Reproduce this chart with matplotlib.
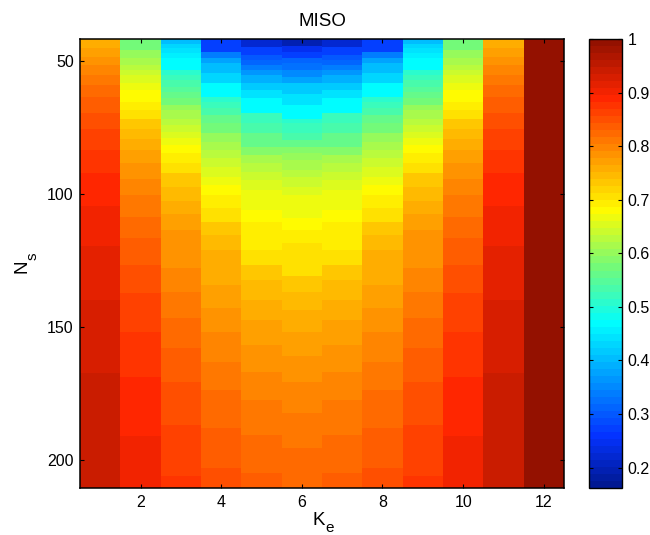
import matplotlib

matplotlib.use("Agg")
import matplotlib.pyplot as plt  # noqa: E402
import numpy as np  # noqa: E402
from matplotlib.cm import ScalarMappable  # noqa: E402
from matplotlib.colors import LinearSegmentedColormap, Normalize  # noqa: E402

# each column is a stack of bands: band edges in N_s and the value inside each band
NS_TOP = 41.7
NS_BOTTOM = 210.5

col1_edges = [NS_TOP, 45.2, 48.4, 51.5, 55.3, 59.0, 63.4, 69.4, 75.6, 83.5, 92.2, 104.5, 119.5,
              139.8, 167.4, NS_BOTTOM]
col1_vals = [.755, .768, .781, .795, .808, .821, .834, .848, .861, .874, .887, .900, .914, .927, .940]

col2_edges = [NS_TOP, 45.9, 49.0, 51.5, 53.4, 55.3, 58.4, 60.7, 65.3, 68.4, 71.6, 75.6, 79.3, 83.5,
              88.5, 94.4, 100.4, 108.5, 116.7, 126.7, 137.3, 151.7, 168.7, 191.0, NS_BOTTOM]
col2_vals = [.570, .596, .609, .623, .636, .649, .662, .676, .689, .702, .728, .742, .755, .768,
             .781, .795, .808, .821, .834, .848, .861, .874, .887, .900]

col3_edges = [NS_TOP, 43.4, 45.2, 47.1, 49.0, 53.4, 55.3, 57.1, 59.6, 61.5, 64.0, 66.5, 68.4, 71.6,
              74.1, 76.6, 79.1, 81.6, 84.7, 88.5, 92.2, 97.2, 102.5, 107.5, 113.5, 127.9, 136.7,
              146.7, 158.0, 170.5, 186.8, 206.0, NS_BOTTOM]
col3_vals = [.402, .424, .437, .451, .464, .504, .517, .530, .543, .557, .570, .596, .609, .623,
             .636, .649, .662, .676, .689, .702, .728, .742, .755, .768, .781, .795, .808, .821,
             .834, .848, .861, .874]

col4_edges = [NS_TOP, 46.5, 49.0, 50.9, 54.6, 58.4, 63.4, 65.3, 67.8, 70.3, 73.4, 77.2, 80.3, 83.5,
              86.6, 89.7, 93.5, 96.6, 100.4, 105.4, 110.4, 115.4, 121.0, 134.2, 143.0, 151.7, 163.0,
              173.7, 188.0, 203.0, NS_BOTTOM]
col4_vals = [.269, .336, .375, .402, .424, .464, .504, .517, .530, .557, .570, .596, .609, .623,
             .636, .649, .662, .676, .689, .702, .728, .742, .755, .768, .781, .795, .808, .821,
             .834, .848]

col5_edges = [NS_TOP, 44.6, 47.7, 49.6, 51.5, 53.4, 55.3, 58.4, 60.9, 64.0, 69.7, 73.4, 77.2, 82.2,
              85.3, 88.5, 91.6, 94.7, 98.5, 106.0, 110.4, 121.0, 126.7, 132.3, 139.8, 147.4, 156.8,
              166.8, 177.4, 190.6, 205.0, NS_BOTTOM]
col5_vals = [.217, .269, .296, .309, .336, .362, .389, .411, .437, .464, .517, .530, .557, .583,
             .609, .623, .636, .649, .662, .676, .689, .702, .728, .742, .755, .768, .781, .795,
             .808, .821, .834]

col6_edges = [NS_TOP, 44.4, 46.5, 49.0, 50.9, 53.4, 55.9, 58.4, 62.2, 66.5, 71.6, 73.4, 77.2, 79.7,
              82.2, 84.7, 87.2, 91.0, 93.5, 97.2, 100.4, 109.1, 113.5, 118.5, 130.8, 136.7, 143.6,
              151.7, 160.9, 170.5, 182.4, 195.6, NS_BOTTOM]
col6_vals = [.190, .243, .269, .309, .322, .349, .375, .411, .437, .464, .504, .517, .530, .557,
             .583, .596, .609, .623, .636, .649, .662, .676, .689, .702, .728, .742, .755, .768,
             .781, .795, .808, .821]

col12_edges = [NS_TOP, NS_BOTTOM]
col12_vals = [.993]

# K_e -> column; the map is mirrored around K_e = 6
columns = {
    1: (col1_edges, col1_vals),
    2: (col2_edges, col2_vals),
    3: (col3_edges, col3_vals),
    4: (col4_edges, col4_vals),
    5: (col5_edges, col5_vals),
    6: (col6_edges, col6_vals),
    7: (col5_edges, col5_vals),
    8: (col4_edges, col4_vals),
    9: (col3_edges, col3_vals),
    10: (col2_edges, col2_vals),
    11: (col1_edges, col1_vals),
    12: (col12_edges, col12_vals),
}

y_ticks = [50, 100, 150, 200]
x_ticks = [2, 4, 6, 8, 10, 12]
cbar_ticks = [.2, .3, .4, .5, .6, .7, .8, .9, 1]
cbar_labels = ["0.2", "0.3", "0.4", "0.5", "0.6", "0.7", "0.8", "0.9", "1"]

# jet as the original renderer shows it (colour managed, so not pure rgb)
jet_colors = ["#011993", "#0433ff", "#0096ff", "#00fdff", "#73fa79", "#fffb00", "#ff9300", "#ff2600", "#941100"]
jet_pos = [0, 7 / 63, 15 / 63, 23 / 63, 31 / 63, 39 / 63, 47 / 63, 55 / 63, 1]
cmap = LinearSegmentedColormap.from_list("jet64", list(zip(jet_pos, jet_colors)), N=64)
norm = Normalize(vmin=0.162, vmax=1.0)

plt.rcParams["font.family"] = ["Liberation Sans", "DejaVu Sans"]

W, H = 650, 535
fig = plt.figure(figsize=(W / 100, H / 100), dpi=100)
ax = fig.add_axes([80 / W, (H - 488) / H, 484 / W, 449 / H])

for k, (edges, vals) in columns.items():
    ax.pcolormesh([k - 0.5, k + 0.5], edges, np.array(vals)[:, None], cmap=cmap, norm=norm,
                  shading="flat", linewidth=0, antialiased=False)

ax.set_xlim(0.5, 12.5)
ax.set_ylim(NS_BOTTOM, NS_TOP)
ax.set_xticks(x_ticks)
ax.set_yticks(y_ticks)
ax.tick_params(direction="in", top=True, right=True, length=3, width=0.8, labelsize=11.5)
ax.tick_params(axis="x", pad=5)
ax.tick_params(axis="y", pad=4.5)
for s in ax.spines.values():
    s.set_linewidth(1.1)
ax.set_title("MISO", fontsize=13.5, pad=9)


def px_text(x, y, s, size, **kw):
    # x, y in image pixels, baseline anchored
    fig.text(x / W, (H - y) / H, s, fontsize=size, ha="left", va="baseline", **kw)


# big letter with a well dropped subscript, mathtext sits it too high
px_text(312, 525, "K", 13.5)
px_text(325, 532, "e", 11)
px_text(27, 273, "N", 13.5, rotation=90, rotation_mode="anchor")
px_text(37, 260, "s", 11, rotation=90, rotation_mode="anchor")

cax = fig.add_axes([589 / W, (H - 488) / H, 33 / W, 449 / H])
cb = fig.colorbar(ScalarMappable(norm=norm, cmap=cmap), cax=cax)
cb.set_ticks(cbar_ticks, labels=cbar_labels)
cax.tick_params(direction="in", left=True, right=True, length=3, width=0.8, labelsize=11.5, pad=4)
cb.outline.set_linewidth(1.0)

fig.savefig("out.png", dpi=100)
